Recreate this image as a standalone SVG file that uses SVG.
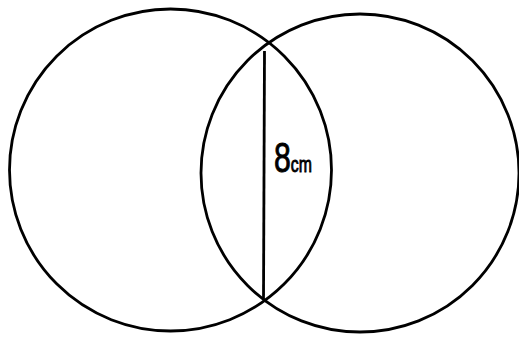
<svg xmlns="http://www.w3.org/2000/svg" width="519" height="337" viewBox="0 0 519 337">
<style>
.c{fill:none;stroke:#000;stroke-width:2.8}
.t{font-family:"Liberation Sans",Arial,sans-serif;fill:#000;stroke:#000;stroke-width:0.9}
</style>
<rect width="519" height="337" fill="#fff"/>
<g id="circle-left"><circle class="c" cx="170.5" cy="170" r="161"/></g>
<g id="circle-right"><circle class="c" cx="360" cy="173" r="159"/></g>
<g id="connectors"><line class="c" x1="264.5" y1="51" x2="263.5" y2="299" stroke-width="2.5"/></g>
<g id="label"><text class="t" transform="translate(274 172) scale(0.72 1)" x="0" y="0" font-size="42">8<tspan font-size="22">cm</tspan></text></g>
</svg>
